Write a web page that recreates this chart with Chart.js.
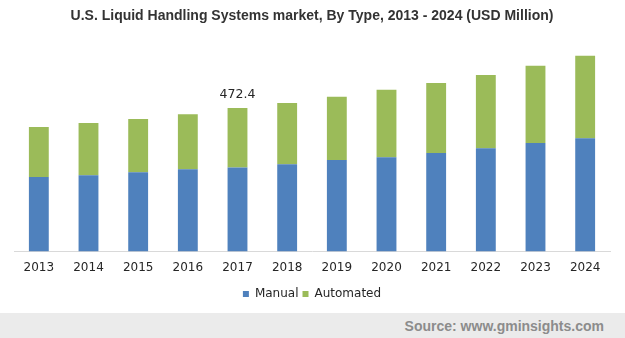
<!DOCTYPE html>
<html>
<head>
<meta charset="utf-8">
<script src="https://cdn.jsdelivr.net/npm/chart.js@4"></script>
<style>
  body { margin: 0; background: #fff; }
  #wrap { width: 625px; height: 313px; position: relative; }
  #footer {
    width: 625px; height: 25px; background: #ebebeb;
    font: bold 14px "Liberation Sans", Arial, sans-serif; color: #8c8c8c;
    text-align: right; line-height: 26px; box-sizing: border-box; padding-right: 21px;
  }
</style>
</head>
<body>
<div id="wrap"><canvas id="chart"></canvas></div>
<div id="footer">Source: www.gminsights.com</div>
<script>
// chart data
const years = ['2013', '2014', '2015', '2016', '2017', '2018', '2019', '2020', '2021', '2022', '2023', '2024'];
const manual = [245, 251, 261, 271, 277, 287, 301, 310, 324, 340, 357, 373];
const automated = [165, 172, 175, 181, 195.4, 202, 208, 222, 231, 241, 254, 271];
const labelYear = '2017'; // only this bar total is printed

// print the stacked total above one bar
const totalLabel = {
    id: 'totalLabel',
    afterDatasetsDraw(chart) {
        const i = years.indexOf(labelYear);
        const bar = chart.getDatasetMeta(1).data[i];
        const ctx = chart.ctx;
        ctx.save();
        ctx.font = '12.5px "DejaVu Sans", sans-serif';
        ctx.fillStyle = '#262626';
        ctx.textAlign = 'center';
        ctx.textBaseline = 'bottom';
        ctx.fillText((manual[i] + automated[i]).toFixed(1), bar.x, bar.y - 7);
        ctx.restore();
    }
};

new Chart(document.getElementById('chart').getContext('2d'), {
    type: 'bar',
    data: {
        labels: years,
        datasets: [
            { label: 'Manual', data: manual, backgroundColor: '#4f81bd' },
            { label: 'Automated', data: automated, backgroundColor: '#9bbb59' }
        ]
    },
    options: {
        responsive: true,
        maintainAspectRatio: false,
        animation: false,
        datasets: { bar: { categoryPercentage: 1, barPercentage: 0.4 } },
        layout: { padding: { left: 14, right: 15, top: 0, bottom: 3 } },
        scales: {
            x: {
                stacked: true,
                grid: { display: false, drawTicks: false },
                border: { display: true, color: '#d9d9d9', width: 1 },
                ticks: { color: '#262626', padding: 9, font: { family: 'DejaVu Sans', size: 12 } }
            },
            y: {
                stacked: true,
                display: false,
                min: 0,
                max: 700
            }
        },
        plugins: {
            title: {
                display: true,
                text: 'U.S. Liquid Handling Systems market, By Type, 2013 - 2024 (USD Million)',
                color: '#333333',
                font: { family: 'Liberation Sans', size: 14, weight: 'bold' },
                padding: { top: 8, bottom: 14 }
            },
            legend: {
                position: 'bottom',
                labels: {
                    boxWidth: 6,
                    boxHeight: 6,
                    padding: 4,
                    color: '#262626',
                    font: { family: 'DejaVu Sans', size: 12 }
                }
            },
            tooltip: { enabled: false }
        }
    },
    plugins: [totalLabel]
});
</script>
</body>
</html>
